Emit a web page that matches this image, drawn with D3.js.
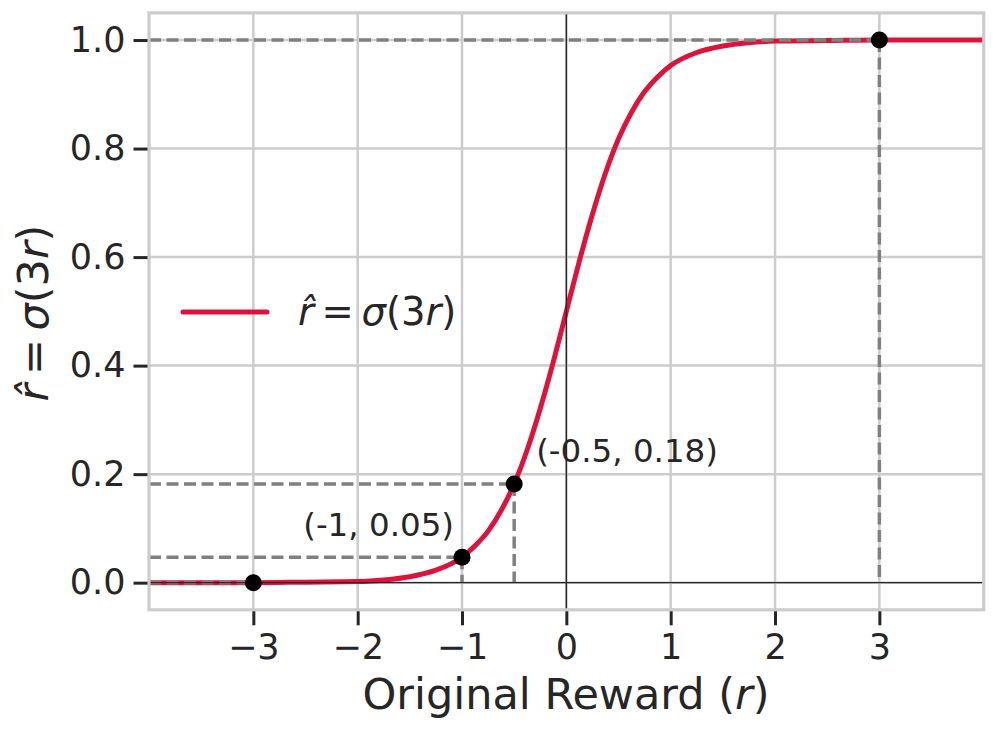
<!DOCTYPE html>
<html><head><meta charset="utf-8">
<script src="https://cdn.jsdelivr.net/npm/d3@7"></script>
<style>body{margin:0;background:#fff;} svg{display:block;font-family:"DejaVu Sans",sans-serif;}</style>
</head><body>
<svg id="chart" width="997" height="732"></svg>
<script>
// Curve values
const rValues = [-4,-3.5,-3,-2.5,-2,-1.75,-1.5,-1.25,-1,-0.875,-0.75,-0.625,-0.5,-0.375,-0.25,-0.125,0,0.125,0.25,0.375,0.5,0.625,0.75,0.875,1,1.25,1.5,1.75,2,2.5,3,3.5,4];
const rHatValues = [0.000,0.000,0.000,0.001,0.002,0.005,0.011,0.023,0.047,0.068,0.095,0.133,0.182,0.245,0.321,0.407,0.500,0.593,0.679,0.755,0.818,0.867,0.905,0.932,0.953,0.977,0.989,0.995,0.998,0.999,1.000,1.000,1.000];
// Marked points
const markR = [-3,-1,-0.5,3];
const markRHat = [0.000,0.047,0.182,1.000];
// Annotations
const annotR = [-1,-0.5];
const annotRHat = [0.047,0.182];
const annotText = ["(-1, 0.05)","(-0.5, 0.18)"];
// Ticks
const xTicks = [-3,-2,-1,0,1,2,3];
const yTicks = [0,0.2,0.4,0.6,0.8,1.0];
const xDomain = [-4,4];
const yDomain = [-0.05,1.05];

const svg = d3.select("#chart");
const L=149, R=983.7, T=12.9, B=609.8;
const x = d3.scaleLinear().domain(xDomain).range([L,R]);
const y = d3.scaleLinear().domain(yDomain).range([B,T]);

svg.append("defs").append("clipPath").attr("id","clip")
  .append("rect").attr("x",L).attr("y",T).attr("width",R-L).attr("height",B-T);

// grid
const grid = svg.append("g");
grid.selectAll(".gx").data(xTicks).join("line")
  .attr("x1",d=>x(d)).attr("x2",d=>x(d)).attr("y1",T).attr("y2",B)
  .attr("stroke","#cccccc").attr("stroke-width",2.5);
grid.selectAll(".gy").data(yTicks).join("line")
  .attr("y1",d=>y(d)).attr("y2",d=>y(d)).attr("x1",L).attr("x2",R)
  .attr("stroke","#cccccc").attr("stroke-width",2.5);

const plot = svg.append("g").attr("clip-path","url(#clip)");

// curve
const pts = rValues.map((r,i)=>[r,rHatValues[i]]);
plot.append("path").datum(pts)
  .attr("d", d3.line().x(d=>x(d[0])).y(d=>y(d[1])).curve(d3.curveMonotoneX))
  .attr("fill","none").attr("stroke","#dc143c").attr("stroke-width",5);

// dashed guides
const marks = markR.map((r,i)=>[r,markRHat[i]]);
marks.forEach(([r,v])=>{
  plot.append("line").attr("x1",x(xDomain[0])).attr("x2",x(r)).attr("y1",y(v)).attr("y2",y(v))
    .attr("stroke","#808080").attr("stroke-width",3.5).attr("stroke-dasharray","12,5.5");
  plot.append("line").attr("x1",x(r)).attr("x2",x(r)).attr("y1",y(v)).attr("y2",y(0))
    .attr("stroke","#808080").attr("stroke-width",3.5).attr("stroke-dasharray","12,5.5");
});

// zero lines
plot.append("line").attr("x1",L).attr("x2",R).attr("y1",y(0)).attr("y2",y(0))
  .attr("stroke","#262626").attr("stroke-width",1.4);
plot.append("line").attr("x1",x(0)).attr("x2",x(0)).attr("y1",T).attr("y2",B)
  .attr("stroke","#262626").attr("stroke-width",1.4);

// dots
plot.selectAll("circle").data(marks).join("circle")
  .attr("cx",d=>x(d[0])).attr("cy",d=>y(d[1])).attr("r",8.5).attr("fill","#000");

// annotations
const annOff = [{dx:-8,dy:-21,anchor:"end"},{dx:22,dy:-22,anchor:"start"}];
annotText.forEach((t,i)=>{
  svg.append("text").attr("x",x(annotR[i])+annOff[i].dx).attr("y",y(annotRHat[i])+annOff[i].dy)
    .attr("text-anchor",annOff[i].anchor).attr("font-size",32.5).attr("fill","#262626").text(t);
});

// frame
svg.append("rect").attr("x",L).attr("y",T).attr("width",R-L).attr("height",B-T)
  .attr("fill","none").attr("stroke","#cccccc").attr("stroke-width",3.2);

// axes
const xAxis = svg.append("g").attr("transform",`translate(0,${B+1.5})`)
  .call(d3.axisBottom(x).tickValues(xTicks).tickSize(14).tickPadding(9));
const yAxis = svg.append("g").attr("transform",`translate(${L-1.5},0)`)
  .call(d3.axisLeft(y).tickValues(yTicks).tickFormat(d3.format(".1f")).tickSize(14).tickPadding(8));
[xAxis,yAxis].forEach(a=>{
  a.select(".domain").remove();
  a.selectAll(".tick line").attr("stroke","#262626").attr("stroke-width",3);
  a.selectAll(".tick text").attr("fill","#262626").attr("font-size",35)
   .attr("font-family","DejaVu Sans");
});

// math label helper
function mathLabel(sel, size){
  sel.attr("font-size",size).attr("fill","#262626");
  sel.append("tspan").attr("font-style","italic").text("r\u0302");
  sel.append("tspan").text("\u2009=\u2009");
  sel.append("tspan").attr("font-style","italic").text("σ");
  sel.append("tspan").text("(3");
  sel.append("tspan").attr("font-style","italic").text("r");
  sel.append("tspan").text(")");
}

// x label
const xl = svg.append("text").attr("x",566).attr("y",709).attr("text-anchor","middle")
  .attr("font-size",43).attr("fill","#262626");
xl.append("tspan").text("Original Reward (");
xl.append("tspan").attr("font-style","italic").text("r");
xl.append("tspan").text(")");

// y label
const yl = svg.append("text").attr("transform","translate(48,313) rotate(-90)")
  .attr("text-anchor","middle");
mathLabel(yl,43);

// legend
svg.append("line").attr("x1",183).attr("x2",267).attr("y1",312).attr("y2",312)
  .attr("stroke","#dc143c").attr("stroke-width",5).attr("stroke-linecap","round");
const lt = svg.append("text").attr("x",298).attr("y",325);
mathLabel(lt,38.5);
</script>
</body></html>
